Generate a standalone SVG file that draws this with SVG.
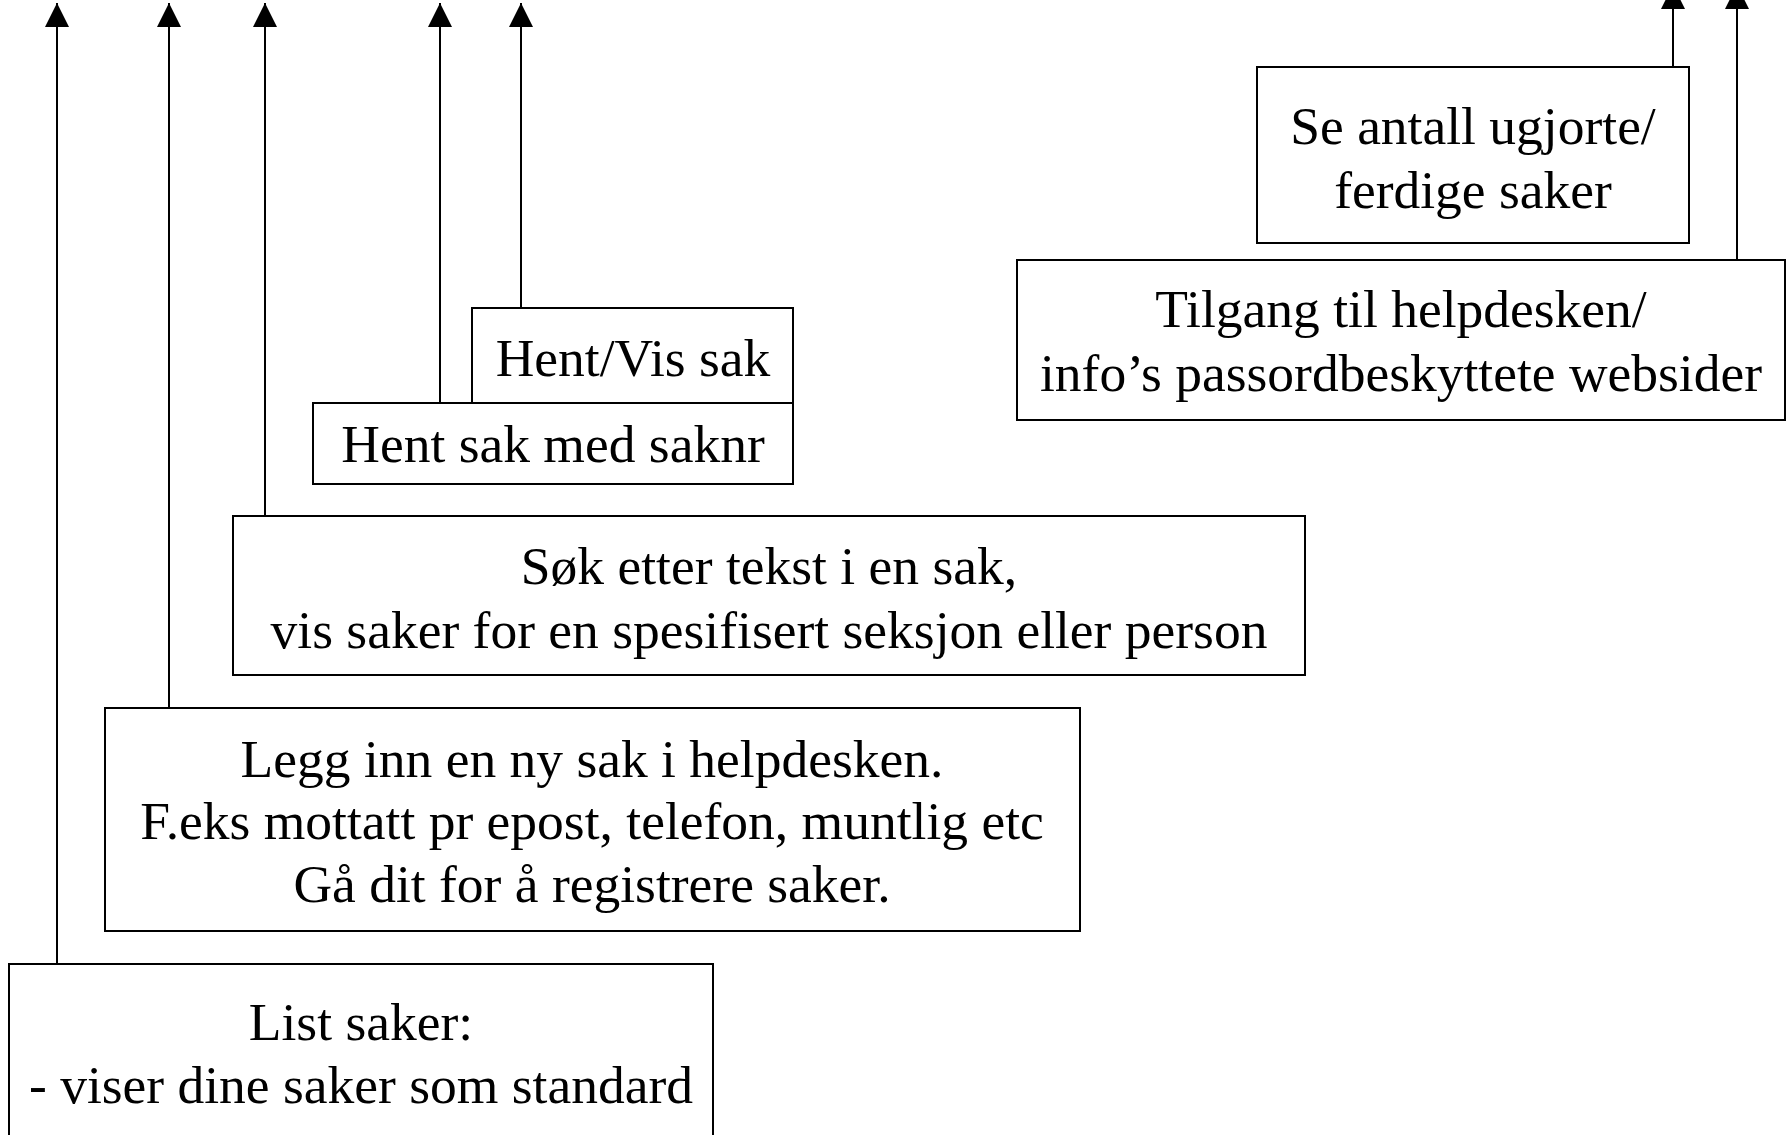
<svg xmlns="http://www.w3.org/2000/svg" width="1789" height="1135" viewBox="0 0 1789 1135">
<style>
  .box { fill: #ffffff; stroke: #000000; stroke-width: 2; }
  .lbl { font-family: "Liberation Serif", "Times New Roman", serif; font-size: 53.5px; fill: #000000; text-anchor: middle; }
  .conn { stroke: #000000; stroke-width: 2; fill: none; marker-end: url(#ah); }
</style>
<defs>
  <marker id="ah" markerUnits="userSpaceOnUse" markerWidth="24" markerHeight="24" refX="24" refY="12" orient="auto" viewBox="0 0 24 24">
    <path d="M0,0 L24,12 L0,24 Z" fill="#000000"/>
  </marker>
</defs>
<rect width="1789" height="1135" fill="#ffffff"/>
<g id="connectors">
  <line class="conn" x1="57" y1="964" x2="57" y2="3"/>
  <line class="conn" x1="169" y1="708" x2="169" y2="3"/>
  <line class="conn" x1="265" y1="516" x2="265" y2="3"/>
  <line class="conn" x1="440" y1="403" x2="440" y2="3"/>
  <line class="conn" x1="521" y1="308" x2="521" y2="3"/>
  <line class="conn" x1="1673" y1="67" x2="1673" y2="-15"/>
  <line class="conn" x1="1737" y1="260" x2="1737" y2="-15"/>
</g>
<g id="node-se-antall">
  <rect class="box" x="1257" y="67" width="432" height="176"/>
  <text class="lbl" x="1473" y="144">Se antall ugjorte/</text>
  <text class="lbl" x="1473" y="208">ferdige saker</text>
</g>
<g id="node-tilgang">
  <rect class="box" x="1017" y="260" width="768" height="160"/>
  <text class="lbl" x="1401" y="327">Tilgang til helpdesken/</text>
  <text class="lbl" x="1401" y="391">info’s passordbeskyttete websider</text>
</g>
<g id="node-hent-vis">
  <rect class="box" x="472" y="308" width="321" height="95"/>
  <text class="lbl" x="633" y="376">Hent/Vis sak</text>
</g>
<g id="node-hent-saknr">
  <rect class="box" x="313" y="403" width="480" height="81"/>
  <text class="lbl" x="553" y="462">Hent sak med saknr</text>
</g>
<g id="node-sok">
  <rect class="box" x="233" y="516" width="1072" height="159"/>
  <text class="lbl" x="769" y="584">Søk etter tekst i en sak,</text>
  <text class="lbl" x="769" y="648">vis saker for en spesifisert seksjon eller person</text>
</g>
<g id="node-legg-inn">
  <rect class="box" x="105" y="708" width="975" height="223"/>
  <text class="lbl" x="592" y="777">Legg inn en ny sak i helpdesken.</text>
  <text class="lbl" x="592" y="839">F.eks mottatt pr epost, telefon, muntlig etc</text>
  <text class="lbl" x="592" y="902">Gå dit for å registrere saker.</text>
</g>
<g id="node-list">
  <rect class="box" x="9" y="964" width="704" height="180"/>
  <text class="lbl" x="361" y="1040">List saker:</text>
  <text class="lbl" x="361" y="1103">- viser dine saker som standard</text>
</g>
</svg>
